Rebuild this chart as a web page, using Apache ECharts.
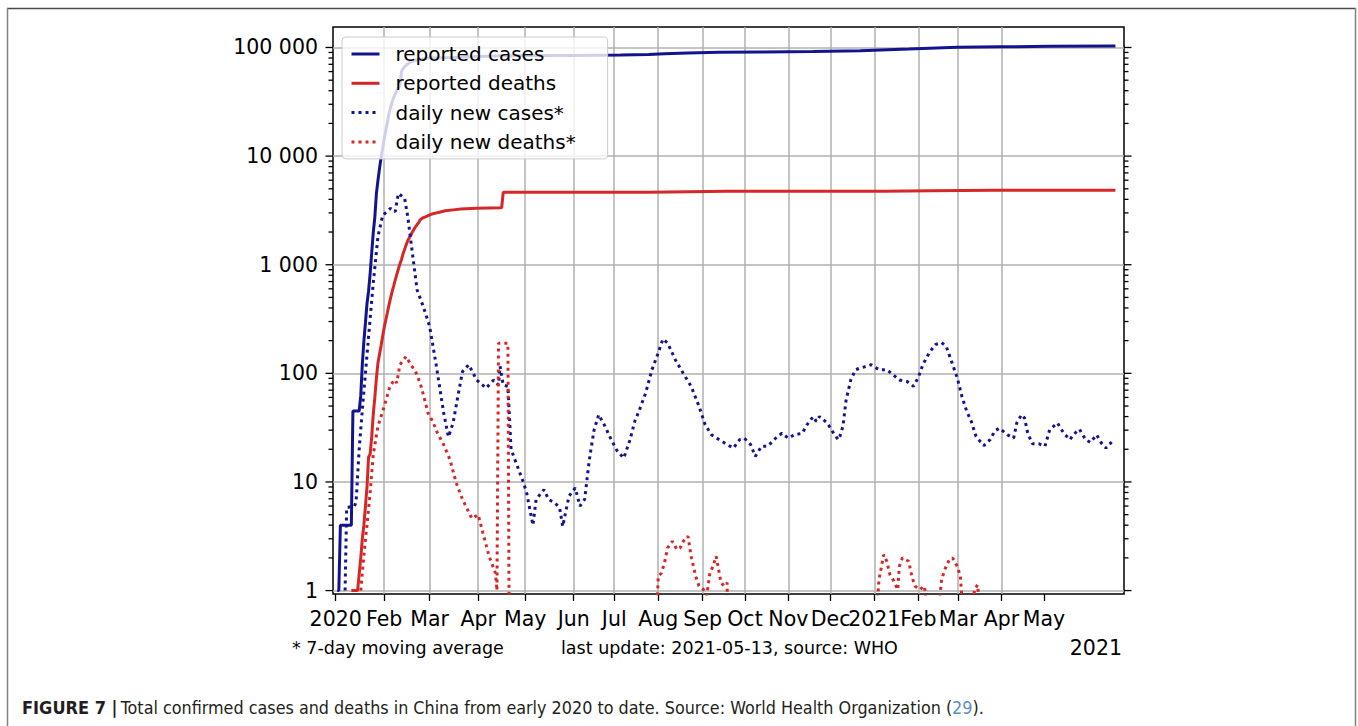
<!DOCTYPE html>
<html><head><meta charset="utf-8">
<script src="https://cdn.jsdelivr.net/npm/echarts@6/dist/echarts.min.js"></script>
<style>html,body{margin:0;padding:0;background:#fff}#c{width:1358px;height:726px}</style>
</head><body><div id="c"></div>
<script>
// ---- data (x = days since 2020-01-01) ----
const xTickDays = [0, 31, 60, 91, 121, 152, 177.9, 206.0, 234.4, 261.4, 289.1, 316.1, 344.0, 372.1, 397.6, 425.3, 452.4];
const xTickLabels = ['2020', 'Feb', 'Mar', 'Apr', 'May', 'Jun', 'Jul', 'Aug', 'Sep', 'Oct', 'Nov', 'Dec', '2021', 'Feb', 'Mar', 'Apr', 'May'];
const yTickLabels = ['1', '10', '100', '1 000', '10 000', '100 000'];
const yTickValues = [1,2,3,4,5,6,7,8,9,10,20,30,40,50,60,70,80,90,100,200,300,400,500,600,700,800,900,
  1000,2000,3000,4000,5000,6000,7000,8000,9000,10000,20000,30000,40000,50000,60000,70000,80000,90000,100000];

const casesDays = [1,2,3,10,11,15,16,17,18,19,20,21,22,23,24,25,26,27,28,29,30,31,32,33,34,35,36,37,38,39,40,41,42,43,44,45,46,47,48,49,51,54,57,60,75,91,107,121,152,182,200,210,225,245,274,305,335,366,397,425,456,498];
const casesValues = [1,1,4,4,45,45,62,121,198,291,440,571,830,1287,1975,2744,4515,5974,7711,9692,11791,14380,17205,20438,24324,28018,31161,34546,37198,40171,42638,44653,59804,63851,66492,68500,70548,72436,74185,74576,76288,77658,78824,80026,81048,82600,83800,84400,84600,85200,86000,87600,89200,90300,90900,91700,93300,96700,100400,101500,102400,103000];

const deathsDays = [10,14,16,17,18,19,20,21,22,23,24,25,26,27,28,29,30,31,32,33,34,35,36,37,38,39,40,41,42,43,44,45,46,47,48,49,50,51,52,53,54,55,56,57,58,59,60,61,65,70,75,80,90,106,107,150,200,250,300,350,380,420,498];
const deathsValues = [1,1,2,3,4,6,9,17,18,26,42,60,90,125,150,180,220,265,310,361,425,490,563,636,722,811,908,1016,1113,1259,1380,1523,1665,1770,1868,2004,2118,2236,2345,2442,2592,2663,2715,2744,2788,2835,2870,2912,3015,3136,3199,3253,3305,3342,4642,4645,4660,4740,4746,4748,4800,4845,4846];

const newCasesDays = [6,7,12,13,15,17,21,24,27,30,35,38,40,44,46,52,56,60,64,69,72,75,78,81,85,90,96,101,104,105,107,110,112,116,120,122,124,126,128,133,136,140,143,145,149,153,156,159,162,165,168,172,176,180,184,188,191,194,198,202,206,209,212,217,222,227,232,236,240,245,250,254,258,261,265,268,272,276,281,285,289,293,298,301,305,307,309,314,318,321,322,324,326,329,332,335,339,342,347,352,356,360,365,369,372,375,379,383,387,390,393,397,400,403,406,409,414,418,421,424,429,433,435,438,440,442,445,449,453,456,461,465,469,471,475,479,482,486,489,492,496];
const newCasesValues = [1,5.8,6,6.5,20,46,218,680,1820,2850,3300,3070,4530,4100,2780,585,410,270,124,43,26,35,61,104,120,87,73,87,78,116,78,76,20,14,9.8,7.9,5.6,4.0,6.9,8.5,6.9,6.4,5.8,3.9,7.4,8.8,6.0,6.9,16,30,41.6,32.6,24.5,19.1,16.6,24.5,36,46,66,108,154,207,190,133,100,76,50,33.6,27.2,24.5,22.1,20.5,24.5,25.3,22.1,17.2,21.3,21.3,25.3,28.1,25.3,27.2,28.1,33.6,40,36,40,34.9,28.1,24.5,26.2,32.6,57,87,108,112,116,120,108,108,97,87,84,76,91,120,154,184,192,176,133,91,61,45,36,26.2,21.6,24.5,29.5,31.3,27.2,25.3,34.9,41.6,38.7,28.1,22.5,22.5,21.3,30.2,34.9,28.1,24.5,27.2,30.6,24.5,23.1,27.2,22.9,20.5,23.7];

// values below the axis floor (< 1) are off-chart, as in the reference
const newDeathsDays = [16,17,19,20,22,24,25,27,31,35,38,39,41,45,48,51,54,56,59,62,65,69,73,77,81,87,91,94,98,102,103,104,110,111,
  205,206,208,210,212,215,218,220,222,225,227,230,232,235,237,239,241,243,245,246,248,250,251,
  345,347,348,350,352,354,356,359,360,362,366,368,370,373,376,379,384,387,389,392,394,397,399,401,406,408,410,412];
const newDeathsValues = [1,1.46,2.95,4,8,17.8,22,32.6,49.6,78.6,87.3,81.4,120,143,120,104,81,63.5,43,36,28.2,22,16,9.8,6.9,4.6,5.0,3.4,2.07,1.45,1.0,189,189,0.1,
  0.5,1.35,1.45,1.8,2.47,2.84,2.38,2.47,2.84,3.16,2.07,1.35,1.1,1.02,0.9,1.45,1.67,2.07,1.45,1.2,1.1,1.18,0.1,
  0.5,1.26,1.5,2.14,1.86,1.4,1.26,1.02,1.67,2.0,1.86,1.35,1.1,1.02,1.1,0.5,0.5,1.26,1.56,1.93,2.0,1.67,1.35,0.5,0.5,1.02,1.13,0.5];

// ---- build ----
const pairs = (days, vals) => days.map((d, i) => [d, vals[i]]);
const BLUE = '#13138f', RED = '#d62728';
const FONT = 'DejaVu Sans';
const CAPFONT = 'Liberation Sans Narrow, DejaVu Sans Condensed, Liberation Sans';

const chart = echarts.init(document.getElementById('c'), null, { renderer: 'svg' });
chart.setOption({
  animation: false,
  backgroundColor: '#fff',
  grid: { left: 333, top: 27, width: 791, height: 567, show: true, borderColor: '#000', borderWidth: 1.5, backgroundColor: 'transparent' },
  xAxis: {
    type: 'value',
    min: -1.72, max: 503.5,
    axisLine: { show: false },
    axisTick: { show: true, customValues: xTickDays, length: 7, lineStyle: { color: '#000', width: 1.3 } },
    axisLabel: {
      customValues: xTickDays, margin: 14, color: '#000', fontFamily: FONT, fontSize: 20.5,
      formatter: v => { const i = xTickDays.findIndex(t => Math.abs(t - v) < 0.01); return i >= 0 ? xTickLabels[i] : ''; }
    },
    splitLine: { show: true, showMinLine: false, showMaxLine: false, lineStyle: { color: '#b0b0b0', width: 1.5 } }
  },
  yAxis: {
    type: 'log', logBase: 10, min: 0.93, max: 154400,
    axisLine: { show: false }, axisTick: { show: false },
    axisLabel: {
      margin: 15, color: '#000', fontFamily: FONT, fontSize: 20.5,
      formatter: v => { const l = Math.log10(v), r = Math.round(l); return Math.abs(l - r) < 1e-6 && yTickLabels[r] !== undefined ? yTickLabels[r] : ''; }
    },
    splitLine: { show: true, showMinLine: false, showMaxLine: false, lineStyle: { color: '#b0b0b0', width: 1.5 } }
  },
  legend: {
    data: ['reported cases', 'reported deaths', 'daily new cases*', 'daily new deaths*'],
    orient: 'vertical', left: 342, top: 37,
    itemWidth: 28, itemHeight: 14, itemGap: 9.3,
    padding: [7, 32, 7, 8],
    backgroundColor: 'rgba(255,255,255,0.8)', borderColor: '#cccccc', borderWidth: 1, borderRadius: 4,
    itemStyle: { opacity: 0 },
    lineStyle: { width: 3 },
    textStyle: { fontFamily: FONT, fontSize: 20, color: '#000', lineHeight: 20, padding: [0, 0, 0, 11] },
    selectedMode: false
  },
  series: [
    { name: 'reported cases', type: 'line', data: pairs(casesDays, casesValues), symbol: 'none', lineStyle: { color: BLUE, width: 3 }, itemStyle: { color: BLUE } },
    { name: 'reported deaths', type: 'line', data: pairs(deathsDays, deathsValues), symbol: 'none', lineStyle: { color: RED, width: 3 }, itemStyle: { color: RED } },
    { name: 'daily new cases*', type: 'line', data: pairs(newCasesDays, newCasesValues), symbol: 'none', lineStyle: { color: BLUE, width: 3, type: [3, 4] }, itemStyle: { color: BLUE } },
    { name: 'daily new deaths*', type: 'line', data: pairs(newDeathsDays, newDeathsValues), symbol: 'none', lineStyle: { color: RED, width: 3, type: [3, 4] }, itemStyle: { color: RED } },
    {
      name: 'yticks', type: 'custom', silent: true, clip: false, z: 5,
      encode: { x: 0, y: 1 },
      data: yTickValues.map(v => [0, v]),
      renderItem: (params, api) => {
        const v = api.value(1);
        const y = api.coord([api.value(0), v])[1];
        const cs = params.coordSys;
        const l = Math.log10(v);
        const len = Math.abs(l - Math.round(l)) < 1e-9 ? 7.5 : 4.5;
        const st = { stroke: '#000', lineWidth: 1.3 };
        return { type: 'group', children: [
          { type: 'line', shape: { x1: cs.x - len, y1: y, x2: cs.x, y2: y }, style: st },
          { type: 'line', shape: { x1: cs.x + cs.width, y1: y, x2: cs.x + cs.width + len, y2: y }, style: st }
        ] };
      }
    }
  ],
  graphic: [
    { type: 'line', shape: { x1: 7, y1: 8.5, x2: 1356, y2: 8.5 }, style: { stroke: '#4a4a4a', lineWidth: 1.5 } },
    { type: 'line', shape: { x1: 7.5, y1: 8, x2: 7.5, y2: 726 }, style: { stroke: '#808080', lineWidth: 1.5 } },
    { type: 'line', shape: { x1: 1355.5, y1: 8, x2: 1355.5, y2: 726 }, style: { stroke: '#808080', lineWidth: 1.5 } },
    { type: 'text', x: 292, y: 648, style: { text: '* 7-day moving average', fontFamily: FONT, fontSize: 17.5, fill: '#000', align: 'left', verticalAlign: 'middle' } },
    { type: 'text', x: 561, y: 648, style: { text: 'last update: 2021-05-13, source: WHO', fontFamily: FONT, fontSize: 17.5, fill: '#000', align: 'left', verticalAlign: 'middle' } },
    { type: 'text', x: 1122, y: 648, style: { text: '2021', fontFamily: FONT, fontSize: 20.5, fill: '#000', align: 'right', verticalAlign: 'middle' } },
    { type: 'text', x: 22, y: 707, style: {
      text: '{b|FIGURE 7 |} {n|Total confirmed cases and deaths in China from early 2020 to date. Source: World Health Organization (}{l|29}{n|).}',
      verticalAlign: 'middle', align: 'left',
      rich: {
        b: { fontFamily: CAPFONT, fontWeight: 'bold', fontSize: 18, fill: '#231f20' },
        n: { fontFamily: CAPFONT, fontSize: 17.8, fill: '#231f20' },
        l: { fontFamily: CAPFONT, fontSize: 17.8, fill: '#5b8fc9' }
      }
    } }
  ]
});
</script></body></html>
